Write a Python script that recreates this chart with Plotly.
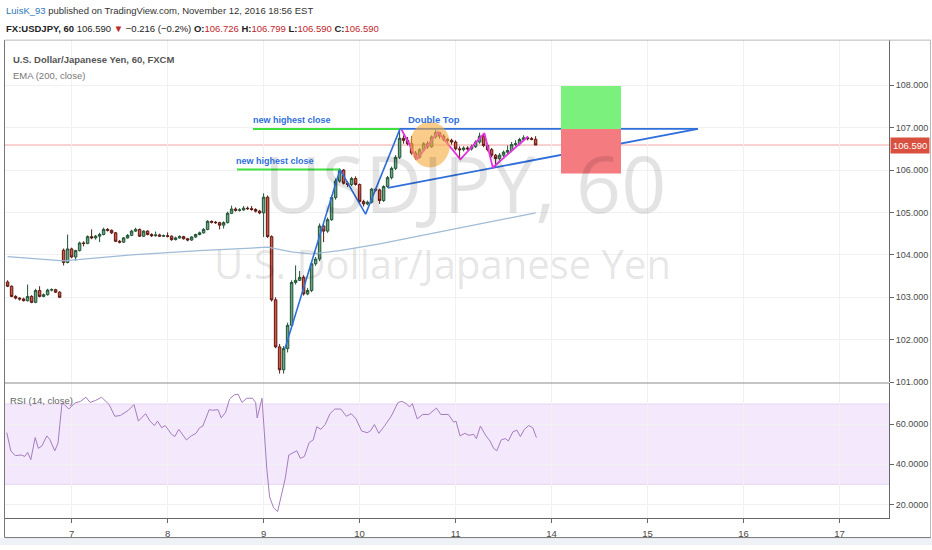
import plotly.graph_objects as go

W, H = 932, 550

# ---------------- data ----------------
bar_index = list(range(-16, 117))
opens = [103.36, 103.26, 103.02, 102.98, 102.96, 102.92, 103.02, 102.88, 103.16, 103.02, 103.06, 103.17, 103.18, 103.12,
         104.11, 103.82, 104.14, 103.95, 104.10, 104.28, 104.27, 104.43, 104.40, 104.44, 104.48, 104.60, 104.58, 104.52,
         104.32, 104.30, 104.40, 104.46, 104.56, 104.60, 104.44, 104.56, 104.48, 104.45, 104.47, 104.44, 104.45, 104.44,
         104.36, 104.40, 104.43, 104.38, 104.35, 104.42, 104.48, 104.52, 104.60, 104.79, 104.77, 104.76, 104.70, 104.76,
         104.98, 105.08, 105.05, 105.06, 105.10, 105.09, 105.07, 105.03, 104.99, 105.36, 104.43, 102.94, 101.83, 101.29,
         101.79, 102.34, 103.35, 103.40, 103.47, 103.08, 103.16, 103.79, 103.90, 104.68, 104.56, 104.83, 105.35, 105.74,
         106.00, 105.69, 105.66, 105.80, 105.66, 105.26, 105.20, 105.24, 105.55, 105.53, 105.28, 105.61, 105.82, 106.04,
         106.30, 106.75, 106.70, 106.62, 106.40, 106.30, 106.48, 106.62, 106.55, 106.78, 106.88, 106.80, 106.72, 106.70,
         106.66, 106.50, 106.48, 106.52, 106.50, 106.55, 106.66, 106.80, 106.58, 106.48, 106.35, 106.27, 106.35, 106.42,
         106.46, 106.60, 106.62, 106.72, 106.76, 106.74, 106.726]
highs = [103.40, 103.28, 103.05, 103.00, 102.99, 103.30, 103.05, 103.20, 103.26, 103.09, 103.20, 103.21, 103.20, 103.14,
         104.15, 104.48, 104.17, 104.12, 104.31, 104.32, 104.46, 104.60, 104.47, 104.52, 104.64, 104.63, 104.60, 104.54,
         104.35, 104.42, 104.49, 104.59, 104.64, 104.62, 104.58, 104.58, 104.51, 104.55, 104.50, 104.48, 104.53, 104.46,
         104.43, 104.46, 104.45, 104.40, 104.44, 104.50, 104.55, 104.63, 104.82, 104.81, 104.80, 104.78, 104.79, 105.02,
         105.16, 105.12, 105.10, 105.15, 105.14, 105.15, 105.10, 105.06, 105.45, 105.40, 104.46, 103.00, 101.90, 101.85,
         102.40, 103.40, 103.75, 103.62, 103.52, 103.22, 103.84, 103.95, 104.74, 104.72, 104.88, 105.40, 105.80, 106.04,
         106.02, 105.74, 105.84, 105.85, 105.68, 105.30, 105.28, 105.58, 105.58, 105.56, 105.64, 105.86, 106.08, 106.35,
         106.97, 106.82, 106.78, 106.80, 106.45, 106.52, 106.66, 106.68, 106.82, 106.95, 106.90, 106.84, 106.76, 106.74,
         106.70, 106.56, 106.56, 106.56, 106.60, 106.70, 106.88, 106.84, 106.62, 106.52, 106.38, 106.40, 106.46, 106.58,
         106.66, 106.70, 106.76, 106.82, 106.80, 106.78, 106.799]
lows = [103.24, 103.00, 102.95, 102.92, 102.90, 102.90, 102.86, 102.86, 103.00, 103.00, 103.04, 103.14, 103.10, 102.98,
        103.75, 103.80, 103.92, 103.86, 104.08, 104.20, 104.25, 104.37, 104.36, 104.30, 104.46, 104.55, 104.49, 104.30,
        104.27, 104.28, 104.38, 104.44, 104.54, 104.42, 104.42, 104.46, 104.42, 104.43, 104.42, 104.42, 104.41, 104.33,
        104.34, 104.38, 104.36, 104.32, 104.33, 104.40, 104.46, 104.50, 104.58, 104.74, 104.73, 104.60, 104.62, 104.74,
        104.96, 105.02, 105.02, 105.04, 105.06, 105.04, 105.00, 104.96, 104.42, 104.40, 102.90, 101.80, 101.20, 101.20,
        101.70, 102.30, 103.30, 103.38, 103.04, 103.05, 103.12, 103.74, 103.85, 104.30, 104.52, 104.80, 105.30, 105.70,
        105.66, 105.60, 105.62, 105.63, 105.22, 105.14, 105.17, 105.21, 105.49, 105.20, 105.25, 105.58, 105.78, 106.00,
        106.26, 106.62, 106.58, 106.36, 106.24, 106.27, 106.44, 106.50, 106.52, 106.74, 106.74, 106.68, 106.64, 106.60,
        106.46, 106.26, 106.44, 106.46, 106.46, 106.52, 106.62, 106.54, 106.44, 106.30, 106.06, 106.22, 106.30, 106.38,
        106.42, 106.56, 106.58, 106.68, 106.70, 106.70, 106.59]
closes = [103.26, 103.02, 102.98, 102.96, 102.92, 103.02, 102.88, 103.16, 103.02, 103.06, 103.17, 103.18, 103.12, 103.00,
          103.82, 104.14, 103.95, 104.10, 104.28, 104.27, 104.43, 104.40, 104.44, 104.48, 104.60, 104.58, 104.52, 104.32,
          104.30, 104.40, 104.46, 104.56, 104.60, 104.44, 104.56, 104.48, 104.45, 104.47, 104.44, 104.45, 104.44, 104.36,
          104.40, 104.43, 104.38, 104.35, 104.42, 104.48, 104.52, 104.60, 104.79, 104.77, 104.76, 104.70, 104.76, 104.98,
          105.08, 105.05, 105.06, 105.10, 105.09, 105.07, 105.03, 104.99, 105.36, 104.43, 102.94, 101.83, 101.29, 101.79,
          102.34, 103.35, 103.40, 103.47, 103.08, 103.16, 103.79, 103.90, 104.68, 104.56, 104.83, 105.35, 105.74, 106.00,
          105.69, 105.66, 105.80, 105.66, 105.26, 105.20, 105.24, 105.55, 105.53, 105.28, 105.61, 105.82, 106.04, 106.30,
          106.75, 106.70, 106.62, 106.40, 106.30, 106.48, 106.62, 106.55, 106.78, 106.88, 106.80, 106.72, 106.70, 106.66,
          106.50, 106.48, 106.52, 106.50, 106.55, 106.66, 106.80, 106.58, 106.48, 106.35, 106.27, 106.35, 106.42, 106.46,
          106.60, 106.62, 106.72, 106.76, 106.74, 106.726, 106.59]

ema_x = [-16, -2, 15, 32, 49, 55, 60, 67, 77, 87, 97, 107, 116]
ema_y = [103.96, 103.86, 104.00, 104.10, 104.18, 104.07, 104.02, 104.10, 104.26, 104.45, 104.64, 104.82, 104.99]

rsi_x = [-16.2, -15.2, -14.1, -12.6, -11.7, -11.0, -10.2, -9.1, -8.3, -7.4, -6.2, -5.5, -4.2, -3.4, -2.4, -1.8,
         -0.7, 0.8, 2.2, 3.6, 4.6, 6.0, 7.5, 9.4, 10.8, 12.2, 14.2, 15.6, 16.7, 18.5, 19.6, 20.7, 21.5, 22.5, 23.4,
         25.0, 25.8, 26.8, 28.7, 29.9, 31.1, 32.0, 32.8, 34.4, 35.2, 36.6, 37.4, 38.5, 39.5, 40.7, 41.6, 42.6, 43.8,
         45.2, 46.0, 46.4, 47.6, 48.1, 48.8, 49.5, 50.5, 51.5, 52.4, 53.4, 54.3, 56.3, 57.2, 58.2, 59.4, 60.4, 61.3,
         62.3, 63.4, 64.6, 65.8, 67.3, 68.7, 69.9, 71.1, 72.5, 73.9, 74.7, 75.7, 76.8, 78.3, 79.9, 81.6, 82.6, 83.7,
         84.5, 85.2, 86.4, 87.8, 89.3, 91.2, 92.3, 94.2, 95.5, 96.1, 97.1, 98.3, 99.3, 100.5, 101.2, 102.2, 103.6,
         104.6, 105.5, 106.3, 107.4, 108.4, 109.2, 110.3, 111.3, 112.2, 113.2, 114.3, 115.3, 116.2]
rsi_y = [55.7, 46.7, 44.3, 44.6, 43.9, 45.9, 42.3, 53.3, 47.9, 49.2, 54.1, 52.5, 46.7, 50.5, 70.5, 69.7,
         67.5, 70.5, 71.3, 73.4, 70.8, 71.8, 73.4, 69.7, 63.9, 64.3, 66.9, 69.7, 61.5, 65.2, 61.5, 59.3, 61.5, 58.2, 59.3,
         54.9, 53.8, 57.4, 52.1, 54.1, 55.4, 58.2, 59.0, 67.2, 66.9, 67.2, 63.1, 65.9, 72.5, 74.6, 74.9, 70.8, 72.9,
         72.9, 70.8, 63.1, 72.9, 55.7, 37.7, 23.7, 18.3, 16.4, 24.6, 32.8, 44.6, 46.7, 42.9, 43.9, 50.8, 52.1, 58.7,
         57.4, 59.8, 65.2, 67.5, 67.5, 63.9, 65.2, 62.6, 56.6, 55.7, 56.6, 59.8, 55.4, 59.3, 63.9, 70.8, 71.3, 70.2,
         68.5, 70.2, 62.6, 64.8, 64.8, 68.0, 64.8, 64.8, 61.0, 61.5, 54.1, 55.4, 54.4, 54.9, 52.8, 59.0, 54.1,
         51.6, 47.9, 46.7, 52.1, 52.8, 51.6, 56.1, 57.0, 53.8, 57.4, 59.3, 58.2, 53.3]

day_ticks = [0, 24, 48, 72, 96, 120, 144, 168, 192]
day_labels = ["7", "8", "9", "10", "11", "14", "15", "16", "17"]
price_ticks = [101, 102, 103, 104, 105, 106, 107, 108]
rsi_ticks = [20, 40, 60]
rsi_band = [30, 70]

# drawings on the chart (bar index, price)
wave_x = [53.35, 67.1, 73.5, 82.1]
wave_y = [101.79, 106.01, 104.96, 106.97]
resist_x = [82.1, 156.6]
resist_y = [106.97, 106.97]
support_x = [79.1, 156.6]
support_y = [105.58, 106.97]
high1_x = [41.35, 67.1]
high1_y = [106.01, 106.01]
high2_x = [45.35, 82.1]
high2_y = [106.97, 106.97]
dtop_x = [82.5, 86.4, 91.6, 97.2, 103.2, 105.3, 114.1]
dtop_y = [106.95, 106.26, 106.90, 106.25, 106.87, 106.06, 106.79]
box_x = [122.35, 137.35]
target_y = [106.97, 107.98]
stop_y = [105.92, 106.97]
circle_x = [84.6, 94.6]
circle_y = [106.06, 107.14]
label_high1 = (50.85, 106.03)
label_high2 = (55.1, 106.99)
label_dtop = (90.6, 106.99)

# ---------------- layout helpers (pixels -> paper) ----------------
def px(x):
    return x / W

def py(y):
    return 1 - y / H

PANE_L, PANE_R = 4.5, 889
PRICE_T, PRICE_B = 40, 386
RSI_T, RSI_B = 387, 523
BAR_PX = 4.0
X0_PX = 71.6  # pixel of bar index 0
PPU = 42.8    # pixels per 1.000 price
P_REF_Y, P_REF = 86, 108.0
RPU = 2.025
R_REF_Y, R_REF = 428, 60.0

x_range = [(PANE_L - X0_PX) / BAR_PX, (PANE_R - X0_PX) / BAR_PX]
price_range = [P_REF - (PRICE_B - P_REF_Y) / PPU, P_REF + (P_REF_Y - PRICE_T) / PPU]
rsi_range = [R_REF - (RSI_B - R_REF_Y) / RPU, R_REF + (R_REF_Y - RSI_T) / RPU]

SANS = "Liberation Sans, Arial, sans-serif"
BLUE = "#2f6fdc"

fig = go.Figure()

fig.add_trace(go.Candlestick(
    x=bar_index, open=opens, high=highs, low=lows, close=closes,
    increasing=dict(fillcolor="#6ba583", line=dict(color="#225437", width=1)),
    decreasing=dict(fillcolor="#d75442", line=dict(color="#5b1a13", width=1)),
    whiskerwidth=0, hoverinfo="skip", xaxis="x", yaxis="y", showlegend=False))

fig.add_trace(go.Scatter(x=ema_x, y=ema_y, mode="lines", line=dict(color="#9fbbd6", width=1.2),
                         hoverinfo="skip", showlegend=False, xaxis="x", yaxis="y"))

for xs, ys, col, wdt in [(high1_x, high1_y, "#3ee23e", 2), (high2_x, high2_y, "#3ee23e", 2),
                         (wave_x, wave_y, BLUE, 1.6), (resist_x, resist_y, BLUE, 1.8),
                         (support_x, support_y, BLUE, 1.8), (dtop_x, dtop_y, "#e632e6", 1.8)]:
    fig.add_trace(go.Scatter(x=xs, y=ys, mode="lines", line=dict(color=col, width=wdt),
                             hoverinfo="skip", showlegend=False, xaxis="x", yaxis="y"))

fig.add_trace(go.Scatter(x=rsi_x, y=rsi_y, mode="lines", line=dict(color="#a57cbd", width=1),
                         hoverinfo="skip", showlegend=False, xaxis="x2", yaxis="y2"))

shapes = []
shapes.append(dict(type="rect", xref="paper", yref="paper", x0=0, x1=1, y0=0, y1=py(543),
                   fillcolor="#eef1f5", line=dict(width=0), layer="below"))
shapes.append(dict(type="rect", xref="x2", yref="y2", x0=x_range[0], x1=x_range[1], y0=rsi_band[0], y1=rsi_band[1],
                   fillcolor="#f3e8fc", line=dict(width=0), layer="below"))
for v in rsi_band:
    shapes.append(dict(type="line", xref="x2", yref="y2", x0=x_range[0], x1=x_range[1], y0=v, y1=v,
                       line=dict(color="#e4d6f0", width=1), layer="below"))
shapes.append(dict(type="line", xref="x", yref="y", x0=x_range[0], x1=x_range[1], y0=closes[-1], y1=closes[-1],
                   line=dict(color="#f2a3a3", width=1), layer="below"))
shapes.append(dict(type="rect", xref="x", yref="y", x0=box_x[0], x1=box_x[1], y0=target_y[0], y1=target_y[1],
                   fillcolor="#7cf07c", line=dict(width=0), layer="above"))
shapes.append(dict(type="rect", xref="x", yref="y", x0=box_x[0], x1=box_x[1], y0=stop_y[0], y1=stop_y[1],
                   fillcolor="#f47b80", line=dict(width=0), layer="above"))
shapes.append(dict(type="circle", xref="x", yref="y", x0=circle_x[0], x1=circle_x[1], y0=circle_y[0], y1=circle_y[1],
                   fillcolor="rgba(245,170,60,0.6)", line=dict(width=0), layer="above"))

def hline(y, x0, x1, col="#b8b8b8"):
    shapes.append(dict(type="line", xref="paper", yref="paper", x0=px(x0), x1=px(x1), y0=py(y), y1=py(y),
                       line=dict(color=col, width=1)))

def vline(x, y0, y1, col="#b8b8b8"):
    shapes.append(dict(type="line", xref="paper", yref="paper", x0=px(x), x1=px(x), y0=py(y0), y1=py(y1),
                       line=dict(color=col, width=1)))

hline(40.5, 4.5, 931)
hline(386.5, 4.5, 889, "#888888")
hline(542.5, 4.5, 931, "#777777")
vline(4.5, 40.5, 542.5, "#777777")
vline(930.5, 40.5, 542.5, "#b8b8b8")
fig.update_layout(shapes=shapes)

ann = []
def text(x, y, t, size=12, color="#333", family=SANS, xanchor="left", yanchor="middle", xref="paper", yref="paper", **kw):
    ann.append(dict(x=x, y=y, xref=xref, yref=yref, text=t, showarrow=False, xanchor=xanchor, yanchor=yanchor,
                    font=dict(size=size, color=color, family=family), **kw))

# watermark
text(px(465), py(184), "USDJPY, 60", size=79, color="rgba(0,0,0,0.11)", family="Open Sans, sans-serif", xanchor="center")
text(px(442), py(266), "U.S. Dollar/Japanese Yen", size=40, color="rgba(0,0,0,0.11)", family="Open Sans, sans-serif", xanchor="center")

# header
text(px(4), py(11), "<span style='color:#2a78b8'>LuisK_93</span> published on TradingView.com, November 12, 2016 18:56 EST",
     size=9.5, color="#333333")
R = "#c0262c"
hdr2 = ("<b>FX:USDJPY, 60</b> 106.590 <span style='color:%s'>▼</span> −0.216 (−0.2%%) "
        "<b>O:</b><span style='color:%s'>106.726</span> <b>H:</b><span style='color:%s'>106.799</span> "
        "<b>L:</b><span style='color:%s'>106.590</span> <b>C:</b><span style='color:%s'>106.590</span>") % (R, R, R, R, R)
text(px(4), py(29), hdr2, size=9.5, color="#222222")

text(px(11), py(60), "<b>U.S. Dollar/Japanese Yen, 60, FXCM</b>", size=9.5, color="#555555")
text(px(11), py(76), "EMA (200, close)", size=9.5, color="#777777")
text(px(8), py(404), "RSI (14, close)", size=9.5, color="#666666")

# drawing labels
text(label_high1[0], label_high1[1], "<b>new highest close</b>", size=9, color=BLUE, xanchor="center", yanchor="bottom", xref="x", yref="y", yshift=1)
text(label_high2[0], label_high2[1], "<b>new highest close</b>", size=9, color=BLUE, xanchor="center", yanchor="bottom", xref="x", yref="y", yshift=1)
text(label_dtop[0], label_dtop[1], "<b>Double Top</b>", size=9.5, color=BLUE, xanchor="center", yanchor="bottom", xref="x", yref="y", yshift=1)

# last price tag
text(px(889), closes[-1], "%.3f" % closes[-1], size=9.5, color="white", xanchor="left", yref="y",
     bgcolor="#d9503f", borderpad=2, xshift=1)

fig.update_layout(annotations=ann)

axis_font = dict(size=9, color="#4a4a4a", family=SANS)
fig.update_layout(
    width=W, height=H, margin=dict(l=0, r=0, t=0, b=0),
    paper_bgcolor="white", plot_bgcolor="white", boxgap=0.12,
    xaxis=dict(domain=[px(PANE_L), px(PANE_R)], range=x_range, anchor="y", tickvals=day_ticks,
               showticklabels=False, showgrid=True, gridcolor="#f1f1f1", zeroline=False,
               rangeslider=dict(visible=False), fixedrange=True),
    yaxis=dict(domain=[py(PRICE_B), py(PRICE_T)], range=price_range, side="right", anchor="x",
               tickvals=price_ticks, tickformat=".3f", ticks="outside", ticklen=4, tickcolor="#666",
               showline=True, linecolor="#666", linewidth=1, showgrid=True, gridcolor="#f1f1f1",
               zeroline=False, tickfont=axis_font),
    xaxis2=dict(domain=[px(PANE_L), px(PANE_R)], range=x_range, anchor="y2", matches="x",
                tickvals=day_ticks, ticktext=day_labels, ticks="outside", ticklen=4, tickcolor="#666",
                showline=True, linecolor="#666", showgrid=True, gridcolor="#f1f1f1", zeroline=False,
                ticklabelstandoff=2, tickfont=dict(size=9.5, color="#4a4a4a", family=SANS)),
    yaxis2=dict(domain=[py(RSI_B), py(RSI_T)], range=rsi_range, side="right", anchor="x2",
                tickvals=rsi_ticks, tickformat=".4f", ticks="outside", ticklen=4, tickcolor="#666",
                showline=True, linecolor="#666", showgrid=True, gridcolor="#f1f1f1", zeroline=False,
                tickfont=axis_font),
)

fig.write_html("out.html", config={"displayModeBar": False},
               post_script="document.body.style.margin='0px';document.body.style.overflow='hidden';")
